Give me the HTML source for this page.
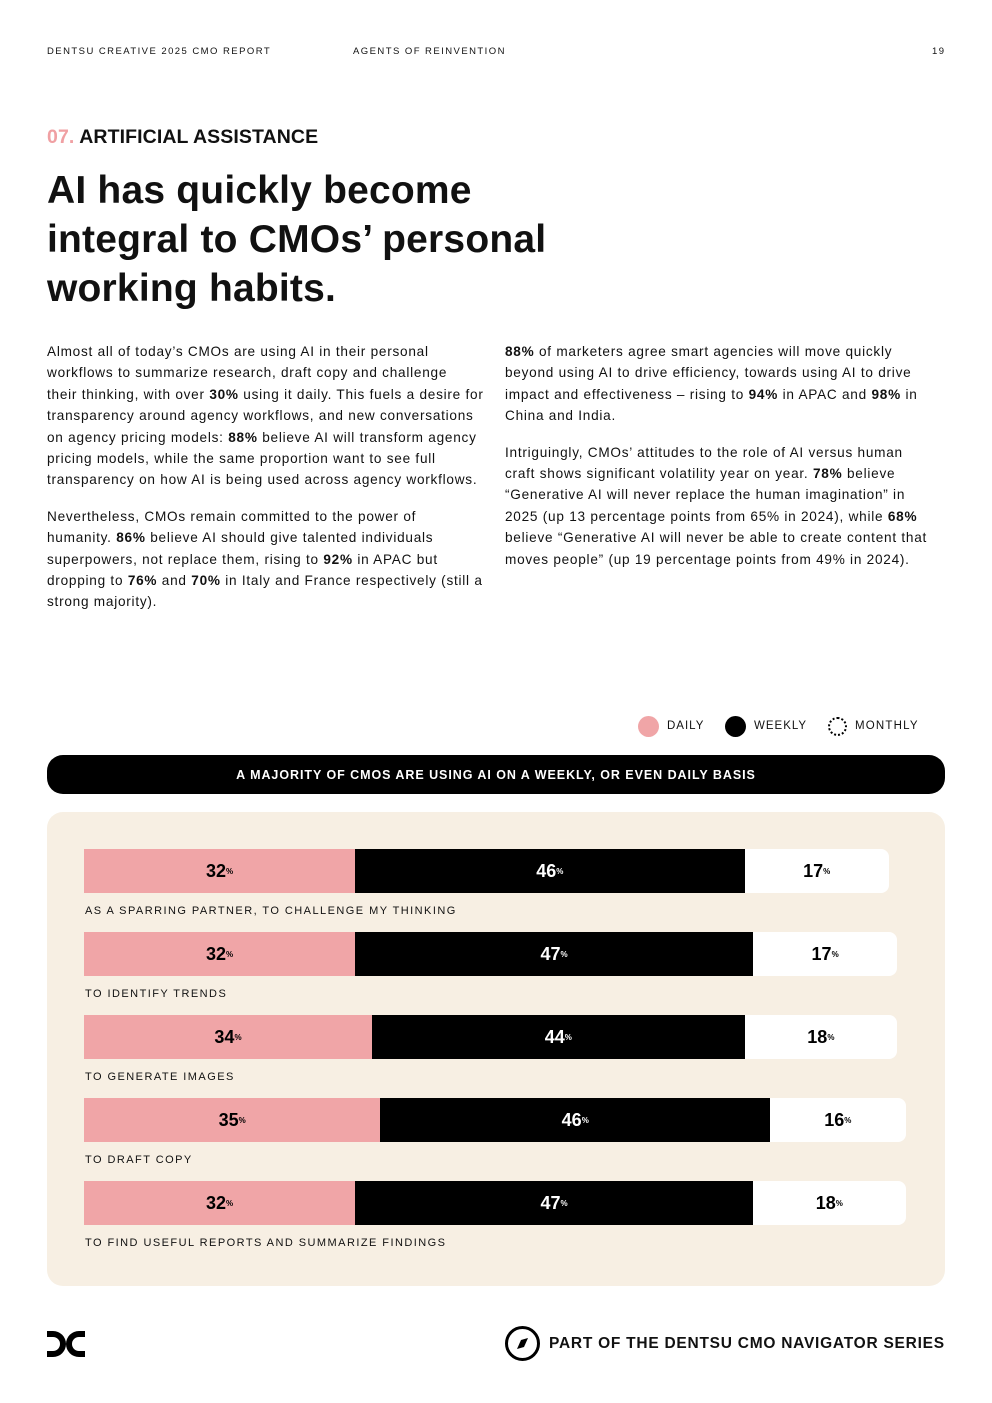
<!DOCTYPE html>
<html><head><meta charset="utf-8">
<style>
*{margin:0;padding:0;box-sizing:border-box}
body{width:992px;height:1403px;background:#fff;font-family:"Liberation Sans",sans-serif;color:#111;position:relative;overflow:hidden}
.abs{position:absolute}
.hdr{font-size:9.5px;letter-spacing:1.45px;top:46px}
p{font-size:13.6px;line-height:21.4px;letter-spacing:0.75px;margin-bottom:15px;white-space:nowrap}
.lab{font-size:11px;letter-spacing:1.45px;position:absolute;left:85px}
.seg{position:absolute;height:44px;display:flex;align-items:center;justify-content:center;font-weight:bold;font-size:18px}
.seg sup{font-size:8px;vertical-align:7px}
</style></head><body>
<div class="abs hdr" style="left:47px">DENTSU CREATIVE 2025 CMO REPORT</div>
<div class="abs hdr" style="left:353px">AGENTS OF REINVENTION</div>
<div class="abs hdr" style="left:932px">19</div>
<div class="abs" style="left:47px;top:126px;font-size:19.5px;font-weight:bold;letter-spacing:0.1px"><span style="color:#f0a0a3">07.</span> ARTIFICIAL ASSISTANCE</div>
<div class="abs" style="left:47px;top:166px;font-size:39px;font-weight:bold;line-height:49px;letter-spacing:0.2px">AI has quickly become<br>integral to CMOs’ personal<br>working habits.</div>
<div class="abs" style="left:47px;top:341px;width:448px">
<p>Almost all of today’s CMOs are using AI in their personal<br>workflows to summarize research, draft copy and challenge<br>their thinking, with over <b>30%</b> using it daily. This fuels a desire for<br>transparency around agency workflows, and new conversations<br>on agency pricing models: <b>88%</b> believe AI will transform agency<br>pricing models, while the same proportion want to see full<br>transparency on how AI is being used across agency workflows.</p>
<p>Nevertheless, CMOs remain committed to the power of<br>humanity. <b>86%</b> believe AI should give talented individuals<br>superpowers, not replace them, rising to <b>92%</b> in APAC but<br>dropping to <b>76%</b> and <b>70%</b> in Italy and France respectively (still a<br>strong majority).</p></div>
<div class="abs" style="left:505px;top:341px;width:440px">
<p><b>88%</b> of marketers agree smart agencies will move quickly<br>beyond using AI to drive efficiency, towards using AI to drive<br>impact and effectiveness – rising to <b>94%</b> in APAC and <b>98%</b> in<br>China and India.</p>
<p>Intriguingly, CMOs’ attitudes to the role of AI versus human<br>craft shows significant volatility year on year. <b>78%</b> believe<br>“Generative AI will never replace the human imagination” in<br>2025 (up 13 percentage points from 65% in 2024), while <b>68%</b><br>believe “Generative AI will never be able to create content that<br>moves people” (up 19 percentage points from 49% in 2024).</p></div>

<div class="abs" style="left:638px;top:716px;width:21px;height:21px;border-radius:50%;background:#f0a5a7"></div>
<div class="abs" style="left:667px;top:720px;font-size:11.5px;letter-spacing:1px">DAILY</div>
<div class="abs" style="left:725px;top:716px;width:21px;height:21px;border-radius:50%;background:#000"></div>
<div class="abs" style="left:754px;top:720px;font-size:11.5px;letter-spacing:1px">WEEKLY</div>
<div class="abs" style="left:828px;top:717px;width:19px;height:19px;border-radius:50%;border:2.5px dotted #000"></div>
<div class="abs" style="left:855px;top:720px;font-size:11.5px;letter-spacing:1.2px">MONTHLY</div>

<div class="abs" style="left:47px;top:755px;width:898px;height:39px;background:#000;border-radius:16px;color:#fff;font-size:12.5px;font-weight:bold;letter-spacing:0.95px;text-align:center;line-height:40px">A MAJORITY OF CMOS ARE USING AI ON A WEEKLY, OR EVEN DAILY BASIS</div>
<div class="abs" id="panel" style="left:47px;top:812px;width:898px;height:474px;background:#f7efe3;border-radius:16px"></div>
<div id="chart"></div>

<svg class="abs" style="left:47px;top:1331px" width="40" height="26"><path d="M0 0h6a13 13 0 0 1 0 26H0v-6h6a7 7 0 0 0 0-14H0z" fill="#000"/><path d="M38 0h-6a13 13 0 0 0 0 26h6v-6h-6a7 7 0 0 1 0-14h6z" fill="#000"/></svg>
<svg class="abs" style="left:504px;top:1325px" width="37" height="37"><circle cx="18.5" cy="18.5" r="16" fill="none" stroke="#000" stroke-width="3"/><path d="M24 13l-4 9-7 2 4-9z" fill="#000"/></svg>
<div class="abs" style="left:549px;top:1335px;font-size:15.5px;font-weight:bold;letter-spacing:0.75px">PART OF THE DENTSU CMO NAVIGATOR SERIES</div>

<script>
const categories=["AS A SPARRING PARTNER, TO CHALLENGE MY THINKING","TO IDENTIFY TRENDS","TO GENERATE IMAGES","TO DRAFT COPY","TO FIND USEFUL REPORTS AND SUMMARIZE FINDINGS"];
const daily=[32,32,34,35,32];
const weekly=[46,47,44,46,47];
const monthly=[17,17,18,16,18];
const x0=84,pxPer=8.47,y0=849,rowStep=83.1;
const xs=v=>v*pxPer;
const chart=document.getElementById('chart');
categories.forEach((c,i)=>{
  const y=y0+i*rowStep;
  let x=x0;
  [[daily[i],'#f0a5a7','#000','daily'],[weekly[i],'#000','#fff','weekly'],[monthly[i],'#fff','#000','monthly']].forEach(([v,bg,fg,n])=>{
    const d=document.createElement('div');
    d.className='seg';
    
    
    d.style.left=x+'px';d.style.top=y+'px';d.style.width=xs(v)+'px';d.style.background=bg;d.style.color=fg;
    if(n==='monthly')d.style.borderRadius='0 8px 8px 0';
    d.innerHTML=v+'<sup>%</sup>';
    chart.appendChild(d);
    x+=xs(v);
  });
  const l=document.createElement('div');
  l.className='lab';
  
  
  l.style.top=(y+56)+'px';
  l.textContent=c;
  chart.appendChild(l);
});
</script>
</body></html>
